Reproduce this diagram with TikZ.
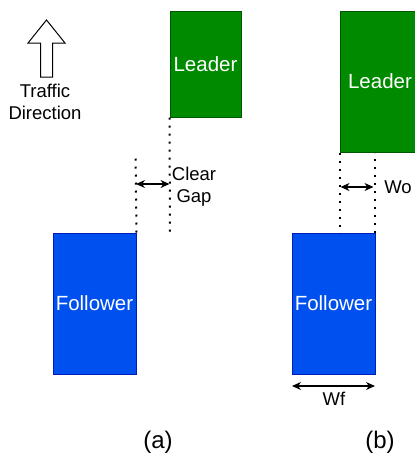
\documentclass[tikz,border=0pt]{standalone}
\usepackage{fontspec}
\setmainfont{Liberation Sans}
\usetikzlibrary{arrows.meta}
\definecolor{leaderfill}{HTML}{008A00}
\definecolor{leaderline}{HTML}{005700}
\definecolor{followfill}{HTML}{0050EF}
\definecolor{followline}{HTML}{001DBC}
\tikzset{
  car/.style={draw, line width=1pt, inner sep=0pt, text=white,
    font=\fontsize{20.5}{24}\selectfont},
  leader/.style={car, fill=leaderfill, draw=leaderline},
  follower/.style={car, fill=followfill, draw=followline},
  guide/.style={line width=2pt, dash pattern=on 2pt off 6pt},
  dim/.style={line width=1.3pt, {Stealth[length=9pt,width=8pt]}-{Stealth[length=9pt,width=8pt]}},
  lbl/.style={font=\fontsize{18.5}{22}\selectfont, align=center, inner sep=0pt},
  subcap/.style={font=\fontsize{24}{28}\selectfont, inner sep=0pt}
}
\begin{document}
\begin{tikzpicture}[x=1pt, y=-1pt]
\useasboundingbox (0,0) rectangle (415,456);

% traffic direction marker
\draw[line width=1pt, fill=white, line join=miter]
  (46.5,20) -- (65,43) -- (52.5,43) -- (52.5,77) -- (40.5,77)
  -- (40.5,43) -- (28,43) -- cycle;
\node[lbl] (dir) at (45,101.5) {Traffic\\Direction};

% (a) clear gap
\node[leader, minimum width=71pt, minimum height=106pt] (la) at (205.5,64) {Leader};
\node[follower, minimum width=83pt, minimum height=141pt] (fa) at (94.5,303.5) {Follower};
\coordinate (fatop) at (135.5,155);
\coordinate (labot) at (170,233);
\draw[guide] (fa.north east) -- (fatop);
\draw[guide] (la.south west) -- (labot);
\coordinate (g1) at (136,184);
\coordinate (g2) at (169.5,184);
\draw[dim] (g1) -- (g2);
\node[lbl] (gap) at (194,187) {Clear\\Gap};
\node[subcap] (capa) at (158,442) {(a)};

% (b) widths
\node[leader, minimum width=80pt, minimum height=141pt] (lb) at (380,81.5) {Leader};
\node[follower, minimum width=83pt, minimum height=141pt] (fb) at (333.5,303.5) {Follower};
\draw[guide] (lb.south west) -- (lb.south west |- fb.north);
\draw[guide] ([xshift=-1pt]fb.north east) -- ([xshift=-1pt]fb.north east |- lb.south);
\coordinate (o1) at (340.5,187);
\coordinate (o2) at (373.5,187);
\draw[dim] (o1) -- (o2);
\node[lbl] (wo) at (398,187) {Wo};
\coordinate (f1) at (292,386);
\coordinate (f2) at (375,386);
\draw[dim] (f1) -- (f2);
\node[lbl] (wf) at (334,399) {Wf};
\node[subcap] (capb) at (380,442) {(b)};
\end{tikzpicture}
\end{document}
